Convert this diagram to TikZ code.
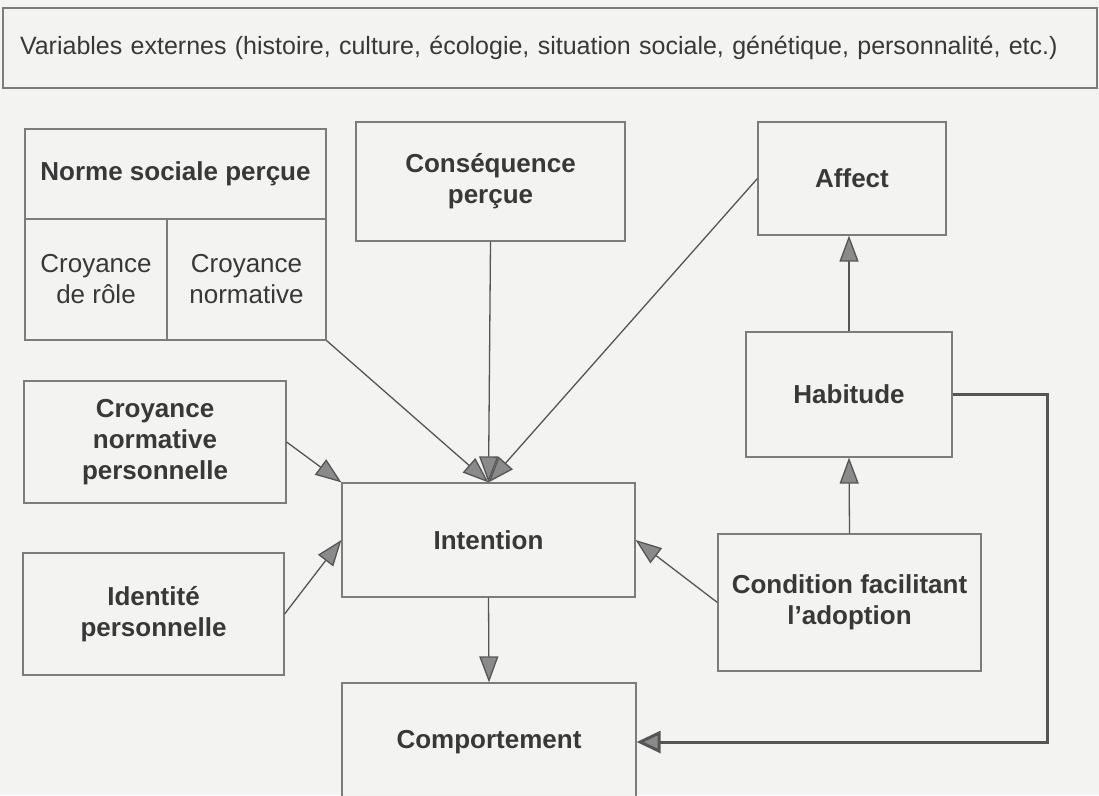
\documentclass[tikz,border=0pt]{standalone}
\usepackage{fontspec}
\setmainfont{Liberation Sans}
\usetikzlibrary{arrows.meta}
\definecolor{paper}{HTML}{F3F3F1}
\definecolor{edge}{HTML}{7C7C7C}
\definecolor{ink}{HTML}{383838}
\definecolor{wire}{HTML}{555555}
\definecolor{headfill}{HTML}{8A8A8A}
\begin{document}
\begin{tikzpicture}[x=1pt,y=-1pt,
  box/.style={draw=edge,line width=1.2pt,fill=paper,rectangle,inner sep=0pt,
    align=center,text=ink,font=\fontsize{26}{31}\selectfont\bfseries},
  lightbox/.style={box,font=\fontsize{26}{31}\selectfont},
  link/.style={draw=wire,line width=1.3pt,
    -{Triangle[length=26pt,width=19pt,fill=headfill]}},
  feedback/.style={draw=wire,line width=3pt,
    -{Triangle[length=24pt,width=22pt,fill=headfill]}}]
  % page
  \fill[paper] (0,0) rectangle (1099,795);
  \useasboundingbox (0,0) rectangle (1099,795);

  % external variables banner
  \node[lightbox,minimum width=1094pt,minimum height=80pt,
    inner xsep=17pt,text width=1060pt,align=left,font=\fontsize{25}{30}\selectfont]
    (ext) at (550,48) {Variables externes (histoire, culture, écologie, situation sociale, génétique, personnalité, etc.)};

  % perceived social norm, split into two beliefs
  \node[box,minimum width=301pt,minimum height=90pt] (normtitle) at (175.5,174) {Norme sociale perçue};
  \node[lightbox,minimum width=142pt,minimum height=121pt] (role) at (96,279.5) {Croyance\\de rôle};
  \node[lightbox,minimum width=159pt,minimum height=121pt] (normative) at (246.5,279.5) {Croyance\\normative};

  \node[box,minimum width=269pt,minimum height=119pt] (cons) at (490.5,181.5) {Conséquence\\perçue};
  \node[box,minimum width=188pt,minimum height=113pt] (affect) at (852,178.5) {Affect};
  \node[box,minimum width=206pt,minimum height=125pt] (habit) at (849,394.5) {Habitude};
  \node[box,minimum width=262pt,minimum height=122pt] (pers) at (155,442) {Croyance\\normative\\personnelle};
  \node[box,minimum width=261pt,minimum height=122pt] (ident) at (153.5,614) {Identité\\personnelle};
  \node[box,minimum width=293pt,minimum height=114pt] (intent) at (488.5,540) {Intention};
  \node[box,minimum width=263pt,minimum height=137pt] (cond) at (849.5,602.5) {Condition facilitant\\l’adoption};
  \node[box,minimum width=294pt,minimum height=118pt] (comp) at (489,742) {Comportement};

  % influences on intention
  \draw[link] (normative.south east) -- (intent.north);
  \draw[link] (cons.south) -- (intent.north);
  \draw[link] (affect.west) -- (intent.north);
  \draw[link] (pers.east) -- (intent.north west);
  \draw[link] (ident.east) -- (intent.west);
  \draw[link] (cond.west) -- (intent.east);

  % habit chain
  \draw[link] (cond.north) -- (habit.south);
  \draw[link] (habit.north) -- (habit.north |- affect.south);
  \draw[link] (intent.south) -- (comp.north);

  % habit feeds behaviour directly
  \coordinate (turn) at (1047,742);
  \draw[feedback] (habit.east) -| (turn) -- (comp.east);
\end{tikzpicture}
\end{document}
